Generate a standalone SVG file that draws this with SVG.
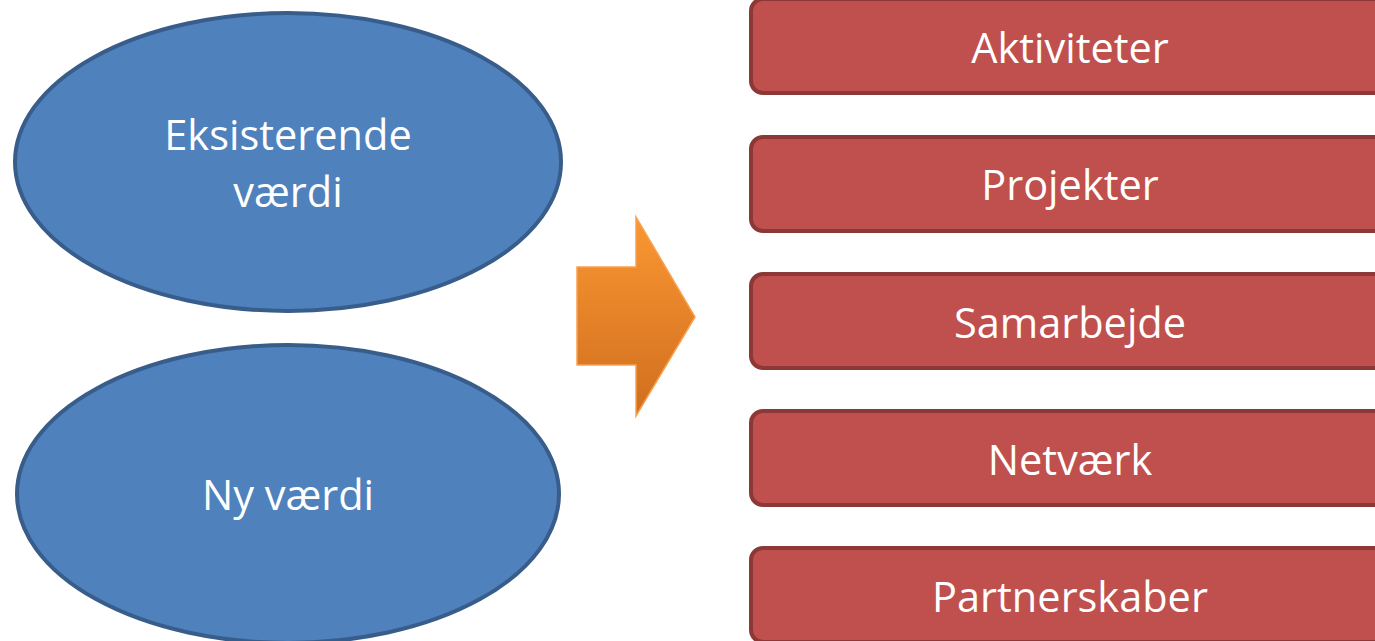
<svg xmlns="http://www.w3.org/2000/svg" width="1375" height="641" viewBox="0 0 1375 641">
<style>
.ell{fill:#4F81BD;stroke:#385D8A;stroke-width:4}
.box{fill:#C0504D;stroke:#8C3836;stroke-width:4}
.t{font-family:"Open Sans","Noto Sans",sans-serif;font-size:41.5px;fill:#FFFFFF;text-anchor:middle}
</style>
<defs>
<linearGradient id="og" x1="0" y1="0" x2="0" y2="1">
<stop offset="0" stop-color="#FA9733"/>
<stop offset="1" stop-color="#D06E1E"/>
</linearGradient>
</defs>
<rect width="1375" height="641" fill="#FFFFFF"/>
<g id="eksisterende">
<ellipse class="ell" cx="288" cy="162" rx="273" ry="149"/>
<text class="t" x="288" y="150">Eksisterende</text>
<text class="t" x="288" y="207">værdi</text>
</g>
<g id="ny">
<ellipse class="ell" cx="288" cy="494" rx="271" ry="149"/>
<text class="t" x="288" y="510">Ny værdi</text>
</g>
<g id="connectors">
<polygon points="577,267 636,267 636,217 695,317 636,416 636,365 577,365" fill="url(#og)" stroke="#F9A050" stroke-width="1.5"/>
</g>
<g id="aktiviteter">
<rect class="box" x="751" y="-1" width="660" height="94" rx="12"/>
<text class="t" x="1070" y="63">Aktiviteter</text>
</g>
<g id="projekter">
<rect class="box" x="751" y="137" width="660" height="94" rx="12"/>
<text class="t" x="1070" y="200">Projekter</text>
</g>
<g id="samarbejde">
<rect class="box" x="751" y="274" width="660" height="94" rx="12"/>
<text class="t" x="1070" y="338">Samarbejde</text>
</g>
<g id="netvaerk">
<rect class="box" x="751" y="411" width="660" height="94" rx="12"/>
<text class="t" x="1070" y="475">Netværk</text>
</g>
<g id="partnerskaber">
<rect class="box" x="751" y="548" width="660" height="94" rx="12"/>
<text class="t" x="1070" y="612">Partnerskaber</text>
</g>
</svg>
